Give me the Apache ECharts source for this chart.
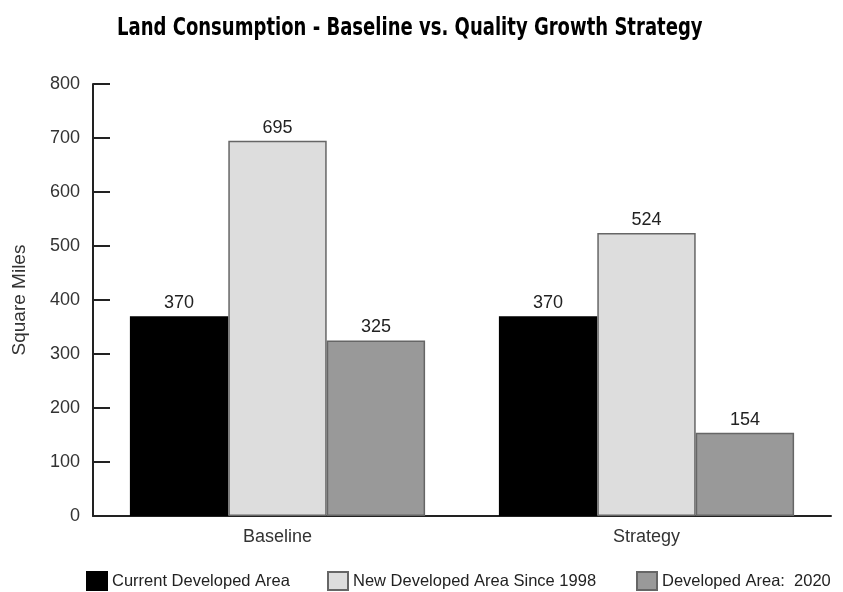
<!DOCTYPE html>
<html>
<head>
<meta charset="utf-8">
<title>Land Consumption</title>
<script src="https://cdn.jsdelivr.net/npm/echarts@6/dist/echarts.min.js"></script>
<style>
  html, body { margin: 0; padding: 0; background: #fff; }
  #chart { width: 843px; height: 592px; }
</style>
</head>
<body>
<div id="chart"></div>
<script>
// Scenario categories along the x axis
const categories = ['Baseline', 'Strategy'];

// Square miles per scenario
const currentDeveloped = [370, 370];
const newDevelopedSince1998 = [695, 524];
const developed2020 = [325, 154];

// Y axis range and step
const yMin = 0;
const yMax = 800;
const yStep = 100;

const seriesNames = ['Current Developed Area', 'New Developed Area Since 1998', 'Developed Area:  2020'];
const chartTitle = 'Land Consumption - Baseline vs. Quality Growth Strategy';

const labelFont = 'Liberation Sans, Arial, Helvetica, sans-serif';

function barSeries(name, data, fill, border) {
  return {
    name: name,
    type: 'bar',
    data: data,
    barGap: 0,
    barCategoryGap: '20%',
    itemStyle: { color: fill, borderColor: border, borderWidth: 1.5 },
    label: {
      show: true,
      position: 'top',
      distance: 4,
      fontSize: 18,
      color: '#222',
      fontFamily: labelFont
    }
  };
}

// One legend block per series so each entry sits at its own x
const legendLefts = [86, 327, 636];
const legends = seriesNames.map((name, i) => ({
  left: legendLefts[i],
  top: 571,
  padding: 0,
  itemWidth: 20,
  itemHeight: 18,
  icon: 'rect',
  textStyle: { fontSize: 16.5, color: '#222', fontFamily: labelFont },
  data: [name]
}));

const chart = echarts.init(document.getElementById('chart'));
chart.setOption({
  animation: false,
  backgroundColor: '#fff',
  // Condensed heavy title: a bold condensed face squeezed horizontally
  graphic: [{
    type: 'text',
    left: 117,
    top: 17,
    scaleX: 0.835,
    originX: 0,
    originY: 0,
    style: {
      text: chartTitle,
      fill: '#000',
      font: 'bold 24px "DejaVu Sans Condensed", "DejaVu Sans", sans-serif'
    }
  }],
  legend: legends,
  grid: { left: 93, right: 12, top: 84, bottom: 76, containLabel: false, outerBoundsMode: 'none' },
  xAxis: {
    type: 'category',
    data: categories,
    axisLine: { lineStyle: { color: '#222', width: 2 } },
    axisTick: { inside: true, length: 9, lineStyle: { color: '#222', width: 2 } },
    axisLabel: { fontSize: 18, color: '#333', margin: 12, fontFamily: labelFont }
  },
  yAxis: {
    type: 'value',
    min: yMin,
    max: yMax,
    interval: yStep,
    name: 'Square Miles',
    nameLocation: 'middle',
    nameRotate: 90,
    nameGap: 64,
    nameTextStyle: { fontSize: 19, color: '#333', fontFamily: labelFont },
    axisLine: { show: true, lineStyle: { color: '#222', width: 2 } },
    axisTick: { show: true, inside: true, length: 17, lineStyle: { color: '#222', width: 2 } },
    splitLine: { show: false },
    axisLabel: { fontSize: 18, color: '#333', margin: 13, fontFamily: labelFont, padding: [10, 0, 0, 0] }
  },
  series: [
    barSeries(seriesNames[0], currentDeveloped, '#000000', '#000000'),
    barSeries(seriesNames[1], newDevelopedSince1998, '#dddddd', '#666666'),
    barSeries(seriesNames[2], developed2020, '#999999', '#666666')
  ]
});
</script>
</body>
</html>
